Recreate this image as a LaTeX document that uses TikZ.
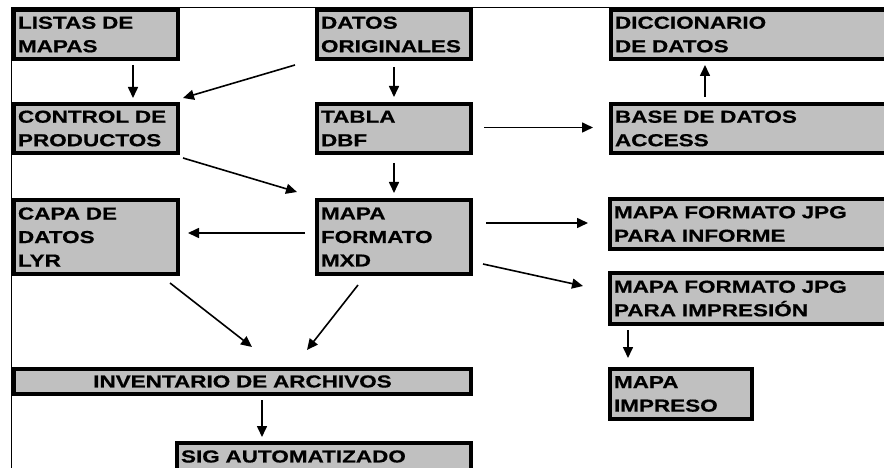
\documentclass[tikz,border=0pt]{standalone}
\usepackage{fontspec}
\newfontfamily\bxf{Liberation Sans}[FakeStretch=1.30,FakeBold=0.6]
\usetikzlibrary{arrows.meta}
\definecolor{boxgray}{HTML}{C0C0C0}
\tikzset{
  box/.style={draw=black, line width=4pt, fill=boxgray, anchor=north west,
    inner xsep=4pt, inner ysep=0pt, align=left,
    font=\bxf\bfseries\fontsize{17.3}{23.5}\selectfont},
  arr/.style={line width=1.6pt, -{Triangle[length=11pt,width=10pt]}},
  frame/.style={line width=1pt}
}
\begin{document}
\begin{tikzpicture}[x=1pt,y=-1pt]
\useasboundingbox (0,0) rectangle (884,468);
\clip (0,0) rectangle (884,468);
\draw[frame] (11,8) -- (884,8);
\draw[frame] (11,8) -- (11,468);
% row 1
\node[box, minimum width=164pt, minimum height=49pt, text width=156pt] (listas) at (12,8) {LISTAS DE\\MAPAS};
\node[box, minimum width=154pt, minimum height=49pt, text width=146pt] (datos) at (315,8) {DATOS\\ORIGINALES};
\node[box, minimum width=287pt, minimum height=49pt, text width=279pt] (dicc) at (609,8) {DICCIONARIO\\DE DATOS};
% row 2
\node[box, minimum width=164pt, minimum height=49pt, text width=156pt] (control) at (12,102) {CONTROL DE\\PRODUCTOS};
\node[box, minimum width=154pt, minimum height=49pt, text width=146pt] (tabla) at (315,102) {TABLA\\DBF};
\node[box, minimum width=287pt, minimum height=49pt, text width=279pt] (base) at (609,102) {BASE DE DATOS\\ACCESS};
% row 3
\node[box, minimum width=164pt, minimum height=74pt, text width=156pt] (capa) at (12,198) {CAPA DE\\DATOS\\LYR};
\node[box, minimum width=154pt, minimum height=74pt, text width=146pt] (mxd) at (315,198) {MAPA\\FORMATO\\MXD};
\node[box, minimum width=288pt, minimum height=50pt, text width=280pt] (jpginf) at (608,197) {MAPA FORMATO JPG\\PARA INFORME};
\node[box, minimum width=288pt, minimum height=51pt, text width=280pt] (jpgimp) at (608,271) {MAPA FORMATO JPG\\PARA IMPRESIÓN};
% bottom
\node[box, minimum width=457pt, minimum height=25pt, text width=449pt, align=center] (inv) at (12,367) {INVENTARIO DE ARCHIVOS};
\node[box, minimum width=294pt, minimum height=27pt, text width=286pt] (sig) at (175,441) {SIG AUTOMATIZADO};
\node[box, minimum width=142pt, minimum height=50pt, text width=134pt] (impreso) at (608,367) {MAPA\\IMPRESO};
% arrows
\draw[arr] ([xshift=37pt,yshift=-4pt]listas.south) -- ([xshift=37pt,yshift=4pt]control.north);
\draw[arr] ([xshift=-20pt,yshift=-4pt]datos.south west) -- ([xshift=3pt,yshift=4pt]control.north east);
\draw[arr] ([yshift=-6pt]datos.south) -- ([yshift=5pt]tabla.north);
\draw[arr] ([xshift=3pt,yshift=-3pt]control.south east) -- ([xshift=-18pt,yshift=6pt]mxd.north west);
\draw[arr] ([yshift=-8pt]tabla.south) -- ([yshift=5pt]mxd.north);
\draw[arr] ([xshift=11pt,yshift=1pt]tabla.east) -- ([xshift=-16pt,yshift=1pt]base.west);
\draw[arr] ([xshift=96pt,yshift=5pt]base.north west) -- ([xshift=96pt,yshift=-4pt]dicc.south west);
\draw[arr] ([xshift=-10pt,yshift=4pt]mxd.west) -- ([xshift=8pt,yshift=4pt]capa.east);
\draw[arr] ([xshift=13pt,yshift=14pt]mxd.east) -- ([xshift=-20pt,yshift=1pt]jpginf.west);
\draw[arr] ([xshift=10pt,yshift=12pt]mxd.south east) -- ([xshift=-25pt,yshift=12.5pt]jpgimp.west);
\draw[arr] ([xshift=-10pt,yshift=-7pt]capa.south east) -- ([xshift=9.5pt,yshift=20pt]inv.north);
\draw[arr] ([xshift=-36pt,yshift=-9pt]mxd.south) -- ([xshift=64.5pt,yshift=17pt]inv.north);
\draw[arr] ([xshift=19.5pt,yshift=-4pt]inv.south) -- ([xshift=-62pt,yshift=4pt]sig.north);
\draw[arr] ([xshift=20pt,yshift=-4pt]jpgimp.south west) -- ([xshift=20pt,yshift=9pt]impreso.north west);
\end{tikzpicture}
\end{document}
